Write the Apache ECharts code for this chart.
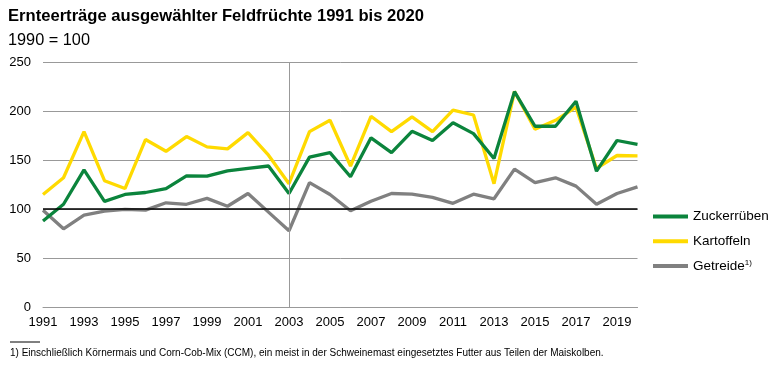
<!DOCTYPE html>
<html><head><meta charset="utf-8">
<script src="https://cdn.jsdelivr.net/npm/echarts@6/dist/echarts.min.js"></script>
<style>html,body{margin:0;padding:0;background:#fff}#c{width:780px;height:368px}</style>
</head><body><div id="c"></div>
<script>
const years = ['1991','1992','1993','1994','1995','1996','1997','1998','1999','2000','2001','2002','2003','2004','2005','2006','2007','2008','2009','2010','2011','2012','2013','2014','2015','2016','2017','2018','2019','2020'];
const zuckerrueben = [88,105,140,108,115,117,121,134,133.6,139,141.5,144,116,153,157.7,133,172.7,157.7,179.4,170,188,177,151.6,219.8,184.5,184.5,210,138.7,170,166];
const kartoffeln = [115,132,179,129,121,171,159,174,163.5,161.5,178,155,126,179,190.6,144,194.7,179,194,179,201,196,126,220,181.5,190.6,204,141.5,154.7,154.3];
const getreide = [99,80,94,98,99.7,99,106.5,105,111,103,116,97,78,127,115,98.4,108,116,115.3,112,106,115.3,110.6,140.8,127,132,123.5,105,116,122.8];
const yTicks = [0,50,100,150,200,250];
const names = ['Zuckerrüben','Kartoffeln','Getreide'];
const colors = {'Zuckerrüben':'#0B843C','Kartoffeln':'#FFDA00','Getreide':'#808080'};
const FONT = 'Liberation Sans, Arial, sans-serif';

const chart = echarts.init(document.getElementById('c'), null, {renderer:'canvas'});
chart.setOption({
  animation:false,
  textStyle:{fontFamily:FONT},
  title:[
    {text:'Ernteerträge ausgewählter Feldfrüchte 1991 bis 2020', left:3, top:3,
     textStyle:{fontFamily:FONT,fontWeight:'bold',fontSize:16.6,color:'#000'}},
    {text:'1990 = 100', left:3, top:28, textStyle:{fontFamily:FONT,fontWeight:'normal',fontSize:16.3,color:'#000'}},
    {text:'1) Einschließlich Körnermais und Corn-Cob-Mix (CCM), ein meist in der Schweinemast eingesetztes Futter aus Teilen der Maiskolben.',
     left:5, top:343, textStyle:{fontFamily:FONT,fontWeight:'normal',fontSize:10,color:'#000'}}
  ],
  graphic:[{type:'line', shape:{x1:10,y1:342,x2:40,y2:342}, style:{stroke:'#000',lineWidth:1}}],
  legend:{
    orient:'vertical', left:648, top:204, itemWidth:35, itemHeight:4, itemGap:9.8,
    icon:'rect', data:names,
    textStyle:{fontFamily:FONT,fontSize:13.5,lineHeight:15,color:'#000',
      rich:{sup:{fontSize:8,verticalAlign:'top',padding:[0,0,6,0],color:'#000'}}},
    formatter:function(n){return n==='Getreide' ? 'Getreide{sup|1)}' : n;}
  },
  grid:{left:43, right:142.5, top:62, bottom:60.7, containLabel:false},
  xAxis:{type:'category', data:years, boundaryGap:false,
    axisLine:{show:true,lineStyle:{color:'#999',width:1}}, axisTick:{show:false},
    axisLabel:{interval:1, fontSize:13, color:'#000', margin:9, fontFamily:FONT},
    splitLine:{show:false}},
  yAxis:{type:'value', min:yTicks[0], max:yTicks[yTicks.length-1], interval:50,
    axisLine:{show:false}, axisTick:{show:false},
    axisLabel:{fontSize:13,color:'#000',margin:12,fontFamily:FONT},
    splitLine:{lineStyle:{color:'#999',width:1}}},
  series:[
    {name:'_ref', type:'line', data:[], silent:true, z:1,
     markLine:{silent:true, symbol:'none', label:{show:false},
       data:[{xAxis:'2003', lineStyle:{color:'#999',width:1,type:'solid'}},
             {yAxis:100, lineStyle:{color:'#000',width:1.5,type:'solid'}}]}},
    {name:'Getreide', type:'line', data:getreide, showSymbol:false, z:2,
     lineStyle:{color:colors['Getreide'],width:3.3}, itemStyle:{color:colors['Getreide']}},
    {name:'Kartoffeln', type:'line', data:kartoffeln, showSymbol:false, z:3,
     lineStyle:{color:colors['Kartoffeln'],width:3.3}, itemStyle:{color:colors['Kartoffeln']}},
    {name:'Zuckerrüben', type:'line', data:zuckerrueben, showSymbol:false, z:4,
     lineStyle:{color:colors['Zuckerrüben'],width:3.3}, itemStyle:{color:colors['Zuckerrüben']}}
  ]
});
</script></body></html>
